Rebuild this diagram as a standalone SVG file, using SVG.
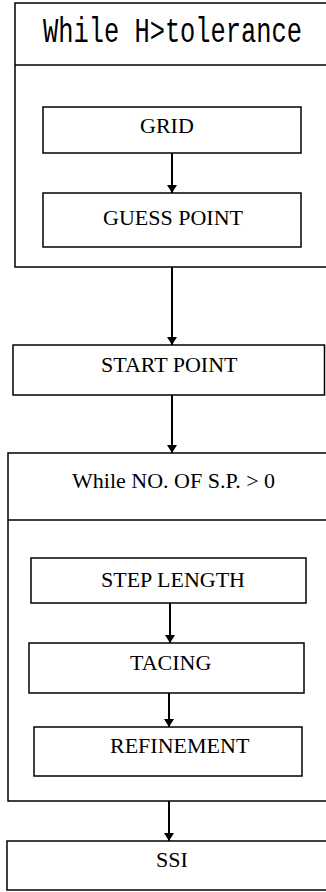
<svg xmlns="http://www.w3.org/2000/svg" width="326" height="892" viewBox="0 0 326 892">
  <defs>
    <marker id="arrow" viewBox="0 0 8 10" refX="8" refY="5" markerUnits="userSpaceOnUse" markerWidth="8" markerHeight="10" orient="auto">
      <path d="M0,0 L8,5 L0,10 Z" fill="#000"/>
    </marker>
    <style>
      .box { fill: #fff; stroke: #000; stroke-width: 1.5; }
      .rule { stroke: #000; stroke-width: 1.5; fill: none; }
      .link { stroke: #000; stroke-width: 2; fill: none; marker-end: url(#arrow); }
      .label { font-family: "Liberation Serif", "Times New Roman", serif; font-size: 22px; fill: #000; }
      .mono { font-family: "Liberation Mono", "Courier New", monospace; font-size: 25.4px; fill: #000; }
    </style>
  </defs>
  <rect width="326" height="892" fill="#fff"/>

  <!-- outer loop: tolerance -->
  <g id="loop-tolerance">
    <rect class="box" x="15" y="3" width="313" height="264"/>
    <line class="rule" x1="15" y1="65" x2="328" y2="65"/>
    <!-- tall, narrow heading face: stretched vertically -->
    <text class="mono" transform="translate(43,42) scale(1,1.38)" x="0" y="0">While H&gt;tolerance</text>
  </g>

  <g id="grid">
    <rect class="box" x="43" y="107" width="258" height="46"/>
    <text class="label" x="140" y="133">GRID</text>
  </g>

  <g id="guess-point">
    <rect class="box" x="43" y="193" width="258" height="54"/>
    <text class="label" x="103" y="225">GUESS POINT</text>
  </g>

  <g id="start-point">
    <rect class="box" x="13" y="345" width="311.5" height="50"/>
    <text class="label" x="101" y="372">START POINT</text>
  </g>

  <!-- inner loop: start points -->
  <g id="loop-start-points">
    <rect class="box" x="8" y="453" width="320" height="348"/>
    <line class="rule" x1="8" y1="520" x2="328" y2="520"/>
    <text class="label" x="72" y="488">While NO. OF S.P. &gt; 0</text>
  </g>

  <g id="step-length">
    <rect class="box" x="31" y="558" width="275" height="45"/>
    <text class="label" x="101" y="587">STEP LENGTH</text>
  </g>

  <g id="tacing">
    <rect class="box" x="29" y="643" width="275" height="50"/>
    <text class="label" x="130" y="670">TACING</text>
  </g>

  <g id="refinement">
    <rect class="box" x="34" y="727" width="268" height="49"/>
    <text class="label" x="110" y="753">REFINEMENT</text>
  </g>

  <g id="ssi">
    <rect class="box" x="7" y="841" width="321" height="49"/>
    <text class="label" x="156" y="867">SSI</text>
  </g>

  <g id="connectors">
    <line class="link" x1="172" y1="153" x2="172" y2="193"/>
    <line class="link" x1="172" y1="267" x2="172" y2="345"/>
    <line class="link" x1="172" y1="395" x2="172" y2="453"/>
    <line class="link" x1="170" y1="603" x2="170" y2="643"/>
    <line class="link" x1="169" y1="693" x2="169" y2="727"/>
    <line class="link" x1="169" y1="801" x2="169" y2="841"/>
  </g>
</svg>
